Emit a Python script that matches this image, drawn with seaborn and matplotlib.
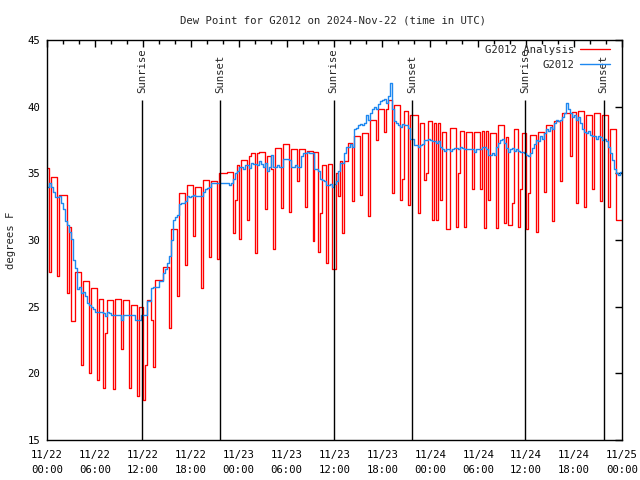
import matplotlib
matplotlib.use("Agg")
import matplotlib.pyplot as plt
from matplotlib.ticker import MultipleLocator
import numpy as np
import pandas as pd
import seaborn as sns

# Dew point, degrees F in 15 minute steps
# (one row per hour, starting 2024-11-22 00:00 UTC)
analysis_dewpt = [
    35.4, 27.6, 34.7, 34.7,  34.7, 27.3, 33.4, 33.4,  33.4, 33.4, 26.0, 31.0,
    23.9, 23.9, 27.6, 27.6,  27.6, 20.6, 26.9, 26.9,  26.9, 20.0, 26.4, 26.4,
    26.4, 19.5, 25.6, 25.6,  18.9, 23.0, 25.5, 25.5,  25.5, 18.8, 25.6, 25.6,
    25.6, 21.8, 25.5, 25.5,  25.5, 18.9, 25.1, 25.1,  25.1, 18.3, 25.0, 25.0,
    18.0, 20.6, 25.5, 25.5,  24.0, 20.5, 27.0, 27.0,  27.0, 27.0, 28.0, 28.0,
    28.0, 23.4, 30.8, 30.8,  30.8, 25.8, 33.5, 33.5,  33.5, 28.1, 34.1, 34.1,
    34.1, 30.3, 34.0, 34.0,  34.0, 26.4, 34.5, 34.5,  34.5, 28.7, 34.4, 34.4,
    34.4, 28.6, 35.0, 35.0,  35.0, 35.0, 35.1, 35.1,  35.1, 30.5, 33.0, 35.6,
    30.1, 36.0, 36.0, 36.0,  31.5, 36.3, 36.5, 36.5,  29.0, 36.5, 36.6, 36.6,
    36.6, 32.3, 36.3, 36.3,  35.3, 29.3, 36.9, 36.9,  36.9, 32.4, 37.2, 37.2,
    37.2, 32.1, 36.8, 36.8,  36.8, 34.4, 36.8, 36.8,  36.8, 32.5, 36.7, 36.7,
    36.7, 29.9, 36.6, 36.6,  29.1, 32.0, 35.6, 35.6,  28.3, 35.7, 35.7, 27.8,
    27.8, 35.0, 33.3, 35.9,  30.5, 35.9, 35.9, 37.3,  37.3, 32.9, 37.8, 37.8,
    37.8, 33.4, 38.0, 38.0,  38.0, 31.8, 39.0, 39.0,  39.0, 37.5, 39.8, 39.8,
    39.8, 38.1, 39.8, 40.5,  40.5, 33.5, 40.1, 40.1,  40.1, 33.0, 34.6, 39.7,
    39.7, 32.6, 39.4, 39.4,  39.4, 39.4, 32.0, 38.8,  38.8, 34.5, 35.0, 38.9,
    38.9, 31.5, 38.8, 31.5,  38.8, 33.0, 38.1, 38.1,  30.8, 30.8, 38.4, 38.4,
    38.4, 31.0, 35.0, 38.2,  38.2, 31.0, 38.1, 38.1,  38.1, 33.8, 38.1, 38.1,
    38.1, 33.8, 38.2, 30.9,  38.2, 33.0, 38.0, 38.0,  38.0, 30.9, 38.6, 38.6,
    38.6, 31.3, 37.7, 31.1,  31.1, 32.8, 38.3, 38.3,  31.0, 33.8, 38.0, 38.0,
    30.8, 33.5, 37.9, 37.9,  37.9, 30.6, 38.1, 38.1,  38.1, 33.6, 38.6, 38.6,
    38.6, 31.4, 38.9, 38.9,  38.9, 34.4, 39.5, 39.5,  39.5, 39.5, 36.3, 39.6,
    39.6, 32.8, 39.7, 39.7,  39.7, 32.5, 39.4, 39.4,  39.4, 33.8, 39.5, 39.5,
    39.5, 32.9, 39.4, 39.4,  39.4, 32.5, 38.3, 38.3,  38.3, 31.5, 31.5, 31.5,
]
station_dewpt = [
    34.0, 34.3, 34.0, 33.6,  33.2, 33.2, 33.3, 32.8,  32.3, 31.4, 31.1, 30.6,
    30.1, 28.5, 27.9, 26.3,  26.5, 26.0, 26.1, 25.8,  25.3, 25.1, 25.0, 24.8,
    24.6, 24.6, 24.6, 24.6,  24.5, 24.3, 24.6, 24.5,  24.4, 24.4, 24.4, 24.4,
    24.4, 24.0, 24.4, 24.4,  24.4, 24.4, 24.4, 24.4,  24.0, 24.0, 24.0, 24.4,
    24.4, 24.4, 25.4, 25.4,  26.4, 26.5, 26.5, 26.5,  26.9, 26.9, 27.5, 27.8,
    28.3, 28.8, 30.0, 31.5,  31.7, 31.9, 32.7, 32.8,  32.8, 32.9, 33.3, 33.2,
    33.3, 33.4, 33.3, 33.3,  33.3, 33.3, 33.6, 33.8,  33.9, 34.0, 34.3, 34.3,
    34.3, 34.3, 34.3, 34.3,  34.3, 34.3, 34.3, 34.1,  34.3, 34.6, 35.0, 35.2,
    35.5, 35.5, 35.3, 35.6,  35.6, 35.4, 35.8, 35.7,  35.7, 35.6, 35.9, 35.7,
    35.5, 35.8, 35.2, 35.5,  36.4, 35.5, 35.5, 35.6,  35.5, 35.5, 36.1, 36.1,
    36.1, 36.0, 35.5, 35.5,  35.6, 35.5, 35.5, 36.3,  36.5, 36.5, 36.6, 36.5,
    36.5, 36.5, 35.3, 35.3,  35.2, 34.6, 34.5, 34.4,  34.1, 34.1, 34.2, 34.0,
    34.2, 34.4, 35.2, 35.8,  35.8, 36.5, 37.0, 37.0,  37.2, 37.0, 38.3, 38.4,
    38.6, 38.7, 38.6, 38.8,  39.4, 39.0, 39.5, 39.8,  40.0, 39.8, 40.2, 40.4,
    40.5, 40.6, 40.3, 40.8,  41.8, 39.8, 38.9, 38.8,  38.6, 38.5, 38.7, 38.6,
    38.6, 38.4, 37.6, 37.6,  37.1, 37.1, 37.0, 37.1,  37.2, 37.5, 37.5, 37.6,
    37.5, 37.4, 37.4, 37.3,  37.4, 37.0, 36.8, 36.7,  36.8, 36.8, 36.7, 36.8,
    36.9, 36.9, 36.8, 37.0,  36.9, 36.8, 36.8, 36.8,  36.8, 36.8, 36.6, 36.8,
    36.8, 36.8, 37.0, 37.0,  36.8, 36.4, 36.4, 36.5,  36.4, 37.0, 37.3, 37.5,
    37.6, 37.3, 36.9, 36.6,  36.8, 36.9, 36.7, 36.8,  36.7, 36.6, 36.6, 36.5,
    36.4, 36.3, 36.5, 36.9,  37.2, 37.5, 37.4, 37.8,  37.6, 38.0, 38.3, 38.2,
    38.5, 38.3, 38.8, 39.0,  38.9, 39.0, 39.2, 39.5,  40.3, 39.8, 39.5, 39.2,
    39.4, 39.0, 39.2, 38.8,  38.3, 38.1, 38.0, 38.2,  37.9, 37.8, 37.8, 37.6,
    37.8, 37.7, 37.5, 37.6,  37.4, 37.0, 36.5, 36.0,  35.3, 35.0, 34.9, 35.1,
]
sunrise_hours = [11.9, 35.9, 59.9]
sunset_hours = [21.7, 45.7, 69.7]
tick_hours = [0, 6, 12, 18, 24, 30, 36, 42, 48, 54, 60, 66, 72]
tick_labels = ["11/22\n00:00", "11/22\n06:00", "11/22\n12:00", "11/22\n18:00",
               "11/23\n00:00", "11/23\n06:00", "11/23\n12:00", "11/23\n18:00",
               "11/24\n00:00", "11/24\n06:00", "11/24\n12:00", "11/24\n18:00",
               "11/25\n00:00"]

# step series: add a closing point at the end of the last interval
hours = np.append(np.arange(len(analysis_dewpt)) * 0.25, 72.0)
df = pd.DataFrame({
    "hour": hours,
    "analysis": analysis_dewpt + analysis_dewpt[-1:],
    "station": station_dewpt + station_dewpt[-1:],
})

FS = 7.7

sns.set_style("white")
plt.rcParams["font.family"] = ["DejaVu Sans Mono"]
plt.rcParams["font.size"] = FS

fig = plt.figure(figsize=(6.4, 4.8), dpi=100)
ax = fig.add_axes([0.0734, 0.0833, 0.8984, 0.8333])

sns.lineplot(data=df, x="hour", y="analysis", color="#ff0000", linewidth=0.95,
             drawstyle="steps-post", estimator=None, label="G2012 Analysis", ax=ax)
sns.lineplot(data=df, x="hour", y="station", color="#1e88f0", linewidth=1.0,
             drawstyle="steps-post", estimator=None, label="G2012", ax=ax)

for name, marks in (("Sunrise", sunrise_hours), ("Sunset", sunset_hours)):
    ax.vlines(marks, 15, 40.5, color="black", linewidth=1.0, zorder=5)
    for h in marks:
        ax.text(h, 41.0, name, rotation=90, ha="center", va="bottom", fontsize=FS)

ax.set_xlim(0, 72)
ax.set_ylim(15, 45)
ax.set_xticks(tick_hours)
ax.set_xticklabels(tick_labels, linespacing=1.7)
ax.xaxis.set_minor_locator(MultipleLocator(2))
ax.set_yticks(range(15, 46, 5))
ax.tick_params(which="both", direction="in", top=True, right=True, width=1,
               colors="black", labelsize=FS)
ax.tick_params(which="major", length=5)
ax.tick_params(axis="x", which="major", pad=7)
ax.tick_params(axis="y", which="major", pad=5)
ax.tick_params(which="minor", length=3)
for s in ax.spines.values():
    s.set_color("black")
    s.set_linewidth(1.0)

ax.set_xlabel("")
ax.set_ylabel("degrees F", fontsize=FS, labelpad=8)
fig.suptitle("Dew Point for G2012 on 2024-Nov-22 (time in UTC)", fontsize=FS,
             x=0.52, y=0.968)
ax.legend(loc="upper right", bbox_to_anchor=(0.988, 1.0), frameon=False,
          markerfirst=False, fontsize=FS, handlelength=2.8, labelspacing=0.45,
          borderaxespad=0.15, borderpad=0.3, handletextpad=0.6)

plt.savefig("out.png", dpi=100)
plt.close()
